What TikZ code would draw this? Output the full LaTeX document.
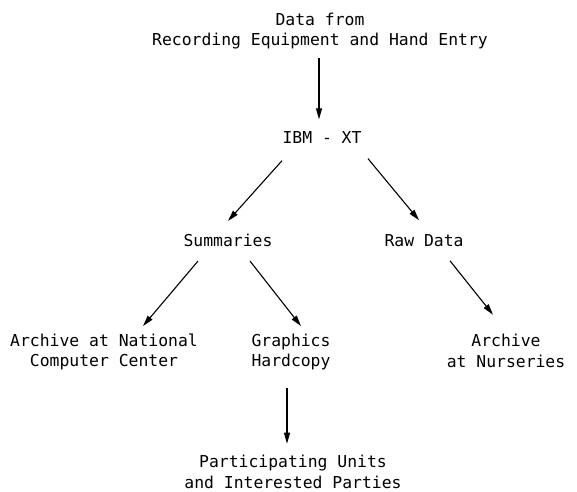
\documentclass[tikz,border=0pt]{standalone}
\usepackage{fontspec}
\setmonofont{DejaVu Sans Mono}
\usetikzlibrary{arrows.meta}
\begin{document}
\begin{tikzpicture}[x=1pt,y=-1pt,
	every node/.style={inner sep=0pt,align=center,font=\ttfamily\fontsize{16.4}{20.5}\selectfont},
	arr/.style={line width=1.1pt,-{Triangle[length=11pt,width=6pt]}}]
	\useasboundingbox (0,0) rectangle (577,491);

	\node (src) at (320,31) {Data from\\Recording Equipment and Hand Entry};
	\node (ibm) at (322,138) {IBM - XT};
	\node (summ) at (228,240) {Summaries};
	\node (raw) at (424,241) {Raw Data};
	\node (nat) at (104,352) {Archive at National\\Computer Center};
	\node (graph) at (291,352) {Graphics\\Hardcopy};
	\node (nurs) at (506,351) {Archive\\at Nurseries};
	\node (part) at (293,472) {Participating Units\\and Interested Parties};

	\draw[arr] ([shift={(-1,9)}]src.south) -- ([shift={(-3,-12.5)}]ibm.north);
	\draw[arr] ([shift={(-40,16.5)}]ibm.south) -- ([shift={(0,-12.5)}]summ.north);
	\draw[arr] ([shift={(46,14.5)}]ibm.south) -- ([shift={(-5,-14.5)}]raw.north);
	\draw[arr] ([shift={(-30,14.5)}]summ.south) -- ([shift={(39,-7.5)}]nat.north);
	\draw[arr] ([shift={(22,14.5)}]summ.south) -- ([shift={(10,-7.5)}]graph.north);
	\draw[arr] ([shift={(26,13.5)}]raw.south) -- ([shift={(-13,-19.5)}]nurs.north);
	\draw[arr] ([shift={(-4,18)}]graph.south) -- ([shift={(-6,-11.5)}]part.north);
\end{tikzpicture}
\end{document}
